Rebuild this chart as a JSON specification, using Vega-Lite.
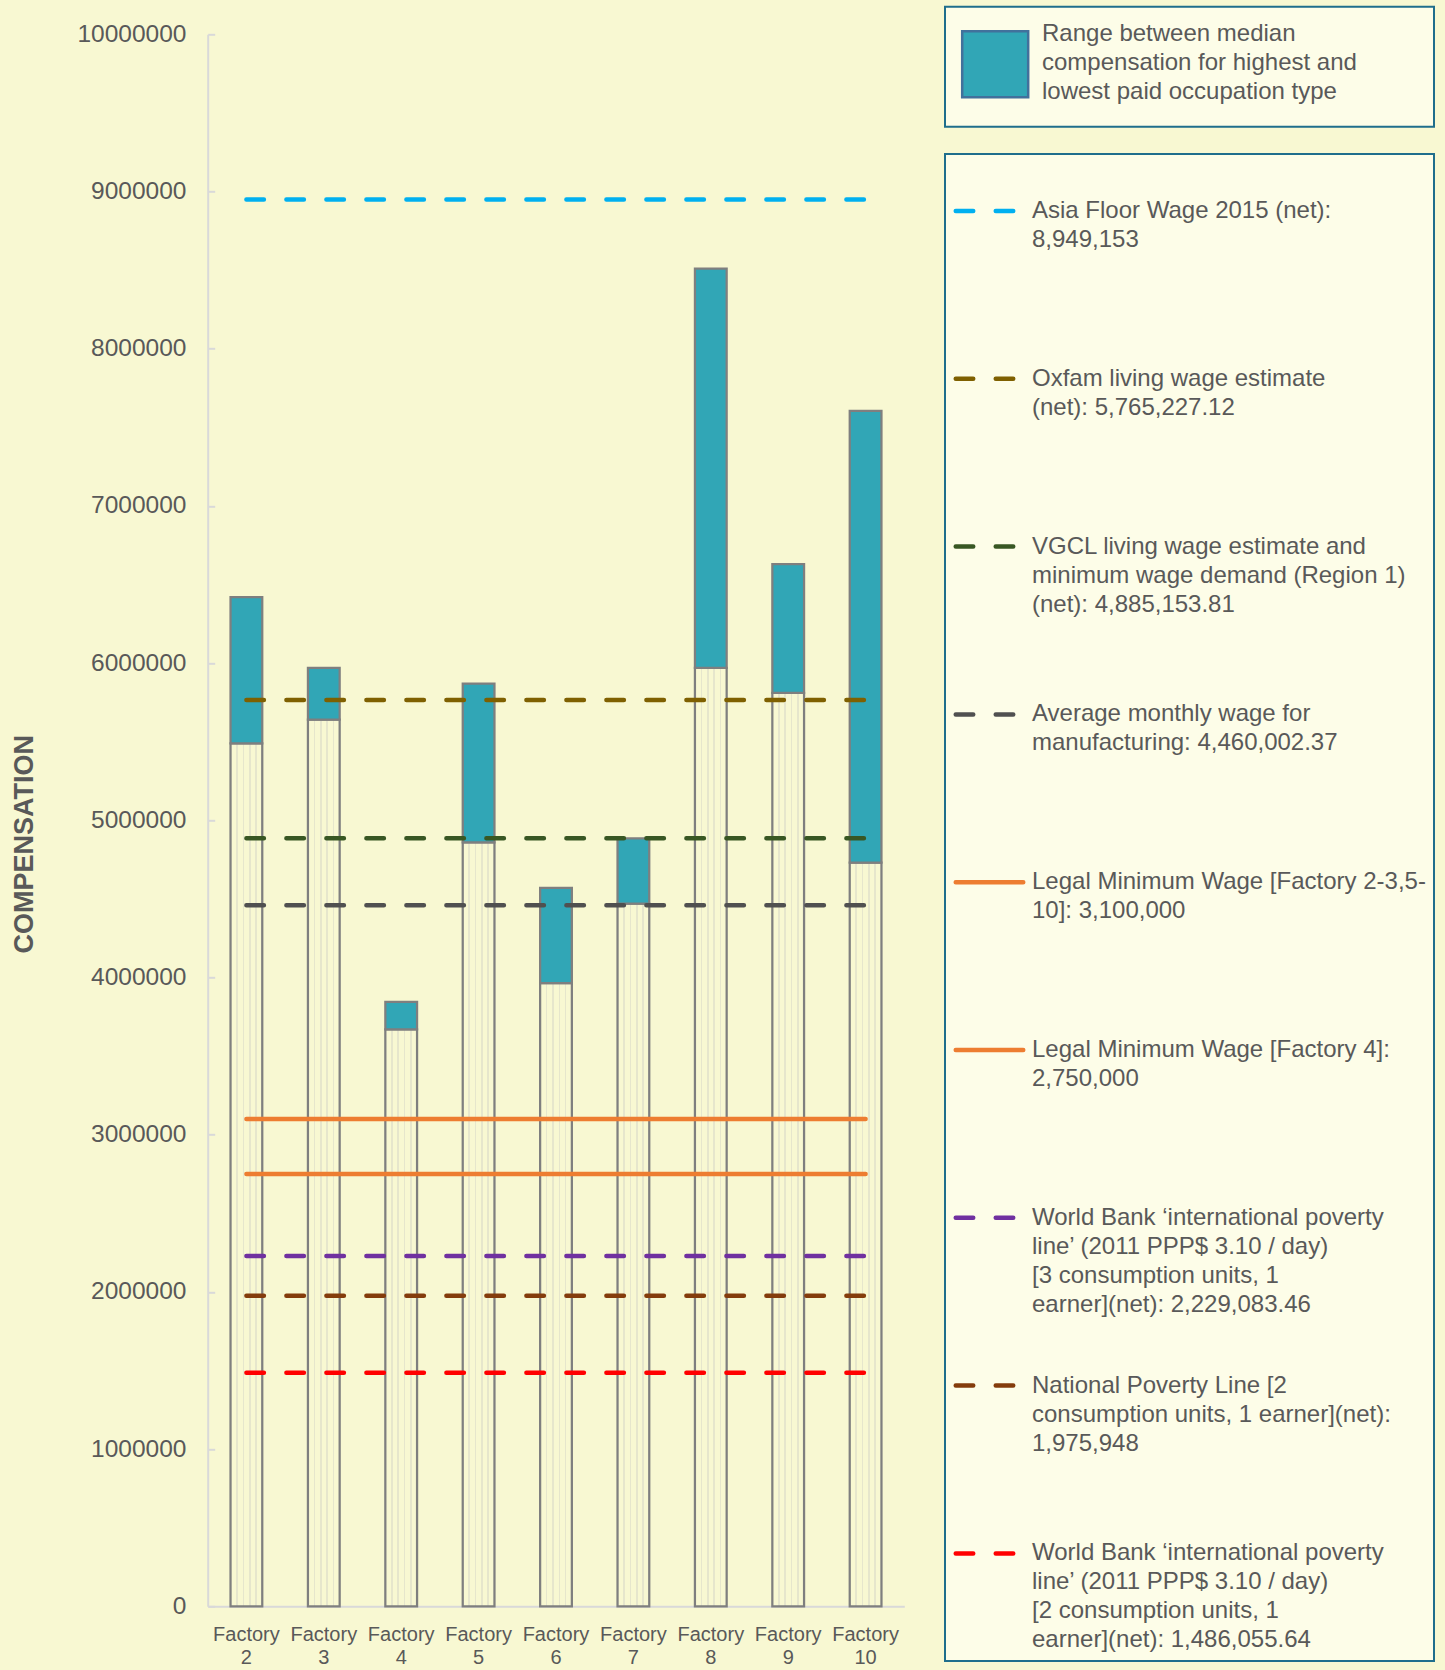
{
  "$schema": "https://vega.github.io/schema/vega-lite/v6.json",
  "width": 696.6,
  "height": 1572,
  "autosize": {"type": "none"},
  "padding": {"left": 207.7, "top": 34.3, "right": 540.7, "bottom": 63.7},
  "background": "#F8F8D2",
  "config": {
    "view": {"stroke": null},
    "font": "Liberation Sans",
    "style": {"guide-label": {"lineHeight": 29}}
  },
  "datasets": {
    "factories": [
      {"factory": "Factory 2", "low": 5490000, "high": 6420000},
      {"factory": "Factory 3", "low": 5640000, "high": 5970000},
      {"factory": "Factory 4", "low": 3670000, "high": 3845000},
      {"factory": "Factory 5", "low": 4860000, "high": 5870000},
      {"factory": "Factory 6", "low": 3965000, "high": 4570000},
      {"factory": "Factory 7", "low": 4470000, "high": 4885000},
      {"factory": "Factory 8", "low": 5970000, "high": 8510000},
      {"factory": "Factory 9", "low": 5810000, "high": 6630000},
      {"factory": "Factory 10", "low": 4730000, "high": 7605000}
    ],
    "lines": [
      {"name": "Asia Floor Wage 2015 (net):\n8,949,153", "value": 8949153},
      {"name": "Oxfam living wage estimate\n(net): 5,765,227.12", "value": 5765227.12},
      {"name": "VGCL living wage estimate and\nminimum wage demand (Region 1)\n(net): 4,885,153.81", "value": 4885153.81},
      {"name": "Average monthly wage for\nmanufacturing: 4,460,002.37", "value": 4460002.37},
      {"name": "Legal Minimum Wage [Factory 2-3,5-\n10]: 3,100,000", "value": 3100000},
      {"name": "Legal Minimum Wage [Factory 4]:\n2,750,000", "value": 2750000},
      {"name": "World Bank ‘international poverty\nline’ (2011 PPP$ 3.10 / day)\n[3 consumption units, 1\nearner](net): 2,229,083.46", "value": 2229083.46},
      {"name": "National Poverty Line [2\nconsumption units, 1 earner](net):\n1,975,948", "value": 1975948},
      {"name": "World Bank ‘international poverty\nline’ (2011 PPP$ 3.10 / day)\n[2 consumption units, 1\nearner](net): 1,486,055.64", "value": 1486055.64}
    ]
  },
  "layer": [
    {
      "data": {"name": "factories"},
      "mark": {
        "type": "bar",
        "stroke": "#7F7F7F",
        "strokeWidth": 2.25,
        "fill": {
          "gradient": "linear", "x1": 0, "x2": 1, "y1": 0, "y2": 0,
          "stops": [
            {"offset": 0, "color": "#F8F8D2"},
            {"offset": 0.18, "color": "#F8F8D2"},
            {"offset": 0.18, "color": "#E6E6CC"},
            {"offset": 0.23, "color": "#E6E6CC"},
            {"offset": 0.23, "color": "#F8F8D2"},
            {"offset": 0.38, "color": "#F8F8D2"},
            {"offset": 0.38, "color": "#E6E6CC"},
            {"offset": 0.43, "color": "#E6E6CC"},
            {"offset": 0.43, "color": "#F8F8D2"},
            {"offset": 0.58, "color": "#F8F8D2"},
            {"offset": 0.58, "color": "#E6E6CC"},
            {"offset": 0.63, "color": "#E6E6CC"},
            {"offset": 0.63, "color": "#F8F8D2"},
            {"offset": 0.78, "color": "#F8F8D2"},
            {"offset": 0.78, "color": "#E6E6CC"},
            {"offset": 0.83, "color": "#E6E6CC"},
            {"offset": 0.83, "color": "#F8F8D2"},
            {"offset": 1, "color": "#F8F8D2"}
          ]
        }
      },
      "encoding": {
        "x": {
          "field": "factory", "type": "nominal", "sort": null,
          "scale": {"paddingInner": 0.59, "paddingOuter": 0.295},
          "axis": {
            "title": null,
            "labelExpr": "split(datum.label, ' ')",
            "labelAngle": 0,
            "labelFontSize": 20,
            "labelColor": "#595959",
            "labelLineHeight": 23,
            "labelPadding": 18,
            "ticks": false,
            "domainColor": "#D9D9D9",
            "domainWidth": 2
          }
        },
        "y": {
          "field": "low", "type": "quantitative",
          "scale": {"domain": [0, 10000000], "nice": false},
          "axis": {
            "title": "COMPENSATION",
            "values": [0, 1000000, 2000000, 3000000, 4000000, 5000000, 6000000, 7000000, 8000000, 9000000, 10000000],
            "format": "d",
            "grid": false,
            "labelFontSize": 24.5,
            "labelColor": "#595959",
            "labelPadding": 28.7,
            "tickSize": -7,
            "tickColor": "#D9D9D9",
            "tickWidth": 2,
            "domainColor": "#D9D9D9",
            "domainWidth": 2,
            "titleFontSize": 27,
            "titleFontWeight": "bold",
            "titleColor": "#595959",
            "titleAngle": 270,
            "titleBaseline": "middle",
            "titleAlign": "center",
            "titleX": -183.5,
            "titleY": 809.5
          }
        }
      }
    },
    {
      "data": {"name": "factories"},
      "mark": {"type": "bar", "stroke": "#7F7F7F", "strokeWidth": 2.25},
      "encoding": {
        "x": {"field": "factory", "type": "nominal", "sort": null},
        "y": {"field": "low", "type": "quantitative"},
        "y2": {"field": "high"},
        "fill": {
          "datum": "Range between median\ncompensation for highest and\nlowest paid occupation type",
          "type": "nominal",
          "scale": {"range": ["#31A6B6"]},
          "legend": {
            "title": null,
            "orient": "none",
            "legendX": 737.3,
            "legendY": -27.5,
            "padding": 22.85,
            "fillColor": "#FDFDE8",
            "strokeColor": "#1F6E8C",
            "symbolType": "M-1.2167,-1H0.7833V1H-1.2167Z",
            "symbolSize": 4356,
            "symbolStrokeColor": "#41719C",
            "symbolStrokeWidth": 2.5,
            "symbolOpacity": 1,
            "labelFontSize": 24,
            "labelColor": "#595959",
            "labelLimit": 700,
            "labelOffset": 5.15,
            "labelBaseline": "middle",
            "labelExpr": "split(datum.label + '\u00a0\u00a0\u00a0\u00a0\u00a0\u00a0\u00a0\u00a0\u00a0\u00a0\u00a0\u200b', '\\n')",
            "encode": {
              "labels": {"update": {"dy": {"value": -30.5}}},
              "legend": {"update": {"strokeWidth": {"value": 2}}}
            }
          }
        }
      }
    },
    {
      "data": {"name": "lines"},
      "mark": {"type": "rule", "strokeWidth": 4.5, "strokeCap": "round"},
      "encoding": {
        "x": {"datum": "Factory 2", "type": "nominal"},
        "x2": {"datum": "Factory 10"},
        "y": {"field": "value", "type": "quantitative"},
        "color": {
          "field": "name", "type": "nominal",
          "scale": {
            "domain": [
              "Asia Floor Wage 2015 (net):\n8,949,153",
              "Oxfam living wage estimate\n(net): 5,765,227.12",
              "VGCL living wage estimate and\nminimum wage demand (Region 1)\n(net): 4,885,153.81",
              "Average monthly wage for\nmanufacturing: 4,460,002.37",
              "Legal Minimum Wage [Factory 2-3,5-\n10]: 3,100,000",
              "Legal Minimum Wage [Factory 4]:\n2,750,000",
              "World Bank ‘international poverty\nline’ (2011 PPP$ 3.10 / day)\n[3 consumption units, 1\nearner](net): 2,229,083.46",
              "National Poverty Line [2\nconsumption units, 1 earner](net):\n1,975,948",
              "World Bank ‘international poverty\nline’ (2011 PPP$ 3.10 / day)\n[2 consumption units, 1\nearner](net): 1,486,055.64"
            ],
            "range": ["#00B0F0", "#7F6000", "#385723", "#505050", "#ED7D31", "#ED7D31", "#7030A0", "#843C0C", "#FF0000"]
          },
          "legend": {
            "title": null,
            "orient": "none",
            "legendX": 737.3,
            "legendY": 119.7,
            "padding": 8,
            "fillColor": "#FDFDE8",
            "strokeColor": "#1F6E8C",
            "symbolType": "M-0.995,0H0.457",
            "symbolSize": 8649,
            "symbolStrokeWidth": 4.5,
            "labelFontSize": 24,
            "labelColor": "#595959",
            "labelLimit": 700,
            "labelOffset": -19,
            "labelBaseline": "middle",
            "rowPadding": 19.8,
            "labelExpr": "slice(split(datum.label + '\\n\\n\\n', '\\n'), 0, 4)",
            "encode": {
              "symbols": {"update": {"strokeCap": {"value": "round"}}},
              "legend": {"update": {"strokeWidth": {"value": 2}}}
            }
          }
        },
        "strokeDash": {
          "field": "name", "type": "nominal",
          "scale": {
            "domain": [
              "Asia Floor Wage 2015 (net):\n8,949,153",
              "Oxfam living wage estimate\n(net): 5,765,227.12",
              "VGCL living wage estimate and\nminimum wage demand (Region 1)\n(net): 4,885,153.81",
              "Average monthly wage for\nmanufacturing: 4,460,002.37",
              "Legal Minimum Wage [Factory 2-3,5-\n10]: 3,100,000",
              "Legal Minimum Wage [Factory 4]:\n2,750,000",
              "World Bank ‘international poverty\nline’ (2011 PPP$ 3.10 / day)\n[3 consumption units, 1\nearner](net): 2,229,083.46",
              "National Poverty Line [2\nconsumption units, 1 earner](net):\n1,975,948",
              "World Bank ‘international poverty\nline’ (2011 PPP$ 3.10 / day)\n[2 consumption units, 1\nearner](net): 1,486,055.64"
            ],
            "range": [[17.5, 22.5], [17.5, 22.5], [17.5, 22.5], [17.5, 22.5], [1, 0], [1, 0], [17.5, 22.5], [17.5, 22.5], [17.5, 22.5]]
          },
          "legend": {
            "title": null,
            "orient": "none",
            "legendX": 737.3,
            "legendY": 119.7,
            "padding": 8,
            "fillColor": "#FDFDE8",
            "strokeColor": "#1F6E8C",
            "symbolType": "M-0.995,0H0.457",
            "symbolSize": 8649,
            "symbolStrokeWidth": 4.5,
            "labelFontSize": 24,
            "labelColor": "#595959",
            "labelLimit": 700,
            "labelOffset": -19,
            "labelBaseline": "middle",
            "rowPadding": 19.8,
            "labelExpr": "slice(split(datum.label + '\\n\\n\\n', '\\n'), 0, 4)",
            "encode": {
              "symbols": {"update": {"strokeCap": {"value": "round"}}},
              "legend": {"update": {"strokeWidth": {"value": 2}}}
            }
          }
        }
      }
    }
  ]
}
